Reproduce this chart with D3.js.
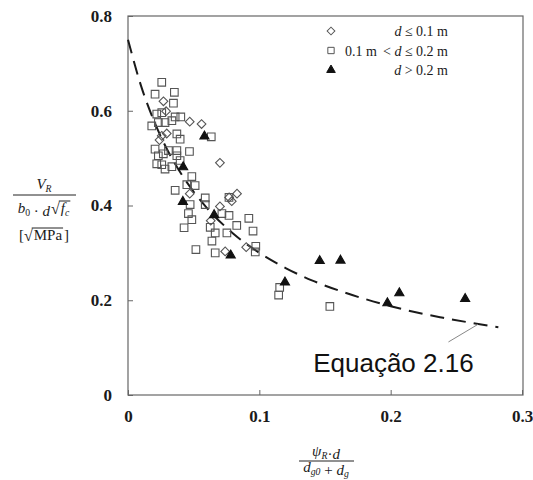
<!DOCTYPE html>
<html>
<head>
<meta charset="utf-8">
<script src="https://cdn.jsdelivr.net/npm/d3@7/dist/d3.min.js"></script>
<style>
body{margin:0;background:#fff}
svg{display:block}
text{font-family:"Liberation Serif","Times New Roman",serif;fill:#1a1a1a}
</style>
</head>
<body>
<div id="chart"></div>
<script>
// points, [x, y]
// d <= 0.1 m
var diamondPts = [[0.027,0.620],[0.029,0.599],[0.047,0.577],[0.056,0.572],[0.0295,0.552],[0.0257,0.547],
  [0.024,0.538],[0.070,0.490],[0.047,0.425],[0.070,0.398],[0.077,0.417],[0.083,0.425],[0.079,0.409],
  [0.063,0.368],[0.074,0.303],[0.090,0.312]]
// 0.1 m < d <= 0.2 m
var squarePts = [[0.0257,0.660],[0.0206,0.635],[0.0353,0.639],[0.0346,0.616],[0.0219,0.593],[0.0257,0.596],
  [0.0359,0.587],[0.0402,0.587],[0.0181,0.568],[0.0231,0.575],[0.0282,0.575],[0.0334,0.579],[0.0372,0.551],
  [0.0397,0.540],[0.0634,0.545],[0.0206,0.519],[0.0231,0.505],[0.0269,0.509],[0.0308,0.516],[0.0372,0.516],
  [0.0372,0.505],[0.0468,0.514],[0.0397,0.495],[0.0219,0.488],[0.0257,0.486],[0.0282,0.477],[0.0334,0.482],
  [0.0486,0.461],[0.0359,0.432],[0.0448,0.444],[0.0511,0.442],[0.0473,0.402],[0.0588,0.416],[0.0588,0.402],
  [0.046,0.383],[0.0486,0.370],[0.0427,0.353],[0.0715,0.383],[0.0769,0.379],[0.0769,0.417],[0.0626,0.354],
  [0.0664,0.342],[0.0639,0.325],[0.0753,0.342],[0.0828,0.358],[0.092,0.373],[0.0952,0.346],[0.0517,0.307],
  [0.0664,0.300],[0.0973,0.314],[0.0969,0.302],[0.1155,0.227],[0.1147,0.211],[0.1537,0.187]]
// d > 0.2 m
var trianglePts = [[0.0582,0.546],[0.042,0.481],[0.0418,0.408],[0.0656,0.380],[0.0782,0.295],[0.1195,0.238],
  [0.146,0.283],[0.1618,0.284],[0.1975,0.194],[0.2066,0.215],[0.2567,0.203]]
// dashed curve (Equação 2.16)
var curvePts = [[0,0.75],[0.01,0.652],[0.02,0.577],[0.03,0.517],[0.04,0.469],[0.05,0.429],[0.06,0.395],
  [0.08,0.341],[0.10,0.300],[0.12,0.268],[0.14,0.242],[0.16,0.221],[0.18,0.203],[0.20,0.1875],[0.22,0.174],
  [0.24,0.163],[0.26,0.153],[0.282,0.143]]
var xTicks = [0, 0.1, 0.2, 0.3]
var yTicks = [0, 0.2, 0.4, 0.6, 0.8]
var legendLabels = ["d ≤ 0.1 m", "0.1 m < d ≤ 0.2 m", "d > 0.2 m"]
var noteLabel = "Equação 2.16"

var width = 533, height = 480
var svg = d3.select("#chart").append("svg")
  .attr("width", width).attr("height", height)

var x = d3.scaleLinear().domain([0, 0.3]).range([128, 522])
var y = d3.scaleLinear().domain([0, 0.8]).range([395, 16])
var fmt = function(d){ return d === 0 ? "0" : d.toFixed(1) }

// frame
svg.append("rect")
  .attr("x", x(0)).attr("y", y(0.8))
  .attr("width", x(0.3) - x(0) + 1).attr("height", y(0) - y(0.8))
  .attr("fill", "none").attr("stroke", "#666").attr("stroke-width", 1.2)

// axes
var xAxis = svg.append("g").attr("transform", "translate(0," + y(0) + ")")
  .call(d3.axisBottom(x).tickValues(xTicks).tickFormat(fmt).tickSizeInner(-5).tickSizeOuter(0).tickPadding(15))
var yAxis = svg.append("g").attr("transform", "translate(" + x(0) + ",0)")
  .call(d3.axisLeft(y).tickValues(yTicks).tickFormat(fmt).tickSizeInner(-5).tickSizeOuter(0).tickPadding(16))
svg.selectAll(".domain").remove()
svg.selectAll(".tick line").attr("stroke", "#666")
svg.selectAll(".tick text")
  .attr("font-family", "Liberation Serif, serif").attr("font-size", 17)
  .attr("fill", "#1a1a1a").attr("font-weight", "bold")

// curve
svg.append("path")
  .datum(curvePts)
  .attr("fill", "none").attr("stroke", "#1a1a1a").attr("stroke-width", 2)
  .attr("stroke-dasharray", "14,8")
  .attr("d", d3.line().curve(d3.curveMonotoneX)
    .x(function(d){ return x(d[0]) }).y(function(d){ return y(d[1]) }))

// markers
function drawSymbols(pts, type, size, rot, fill, stroke){
  svg.append("g").selectAll("path")
    .data(pts).enter().append("path")
    .attr("d", d3.symbol().type(type).size(size))
    .attr("transform", function(d){ return "translate(" + x(d[0]) + "," + y(d[1]) + ") rotate(" + rot + ")" })
    .attr("fill", fill).attr("stroke", stroke).attr("stroke-width", 1.1)
}
drawSymbols(squarePts, d3.symbolSquare, 58, 0, "none", "#555")
drawSymbols(diamondPts, d3.symbolSquare, 38, 45, "none", "#555")
drawSymbols(trianglePts, d3.symbolTriangle, 36, 0, "#111", "#111")

// legend
var lg = svg.append("g")
var legendSym = [[d3.symbolSquare, 30, 45, "none"], [d3.symbolSquare, 40, 0, "none"], [d3.symbolTriangle, 32, 0, "#111"]]
for (var i = 0; i < 3; i++){
  var ly = 31 + i * 19.5
  lg.append("path")
    .attr("d", d3.symbol().type(legendSym[i][0]).size(legendSym[i][1]))
    .attr("transform", "translate(331," + ly + ") rotate(" + legendSym[i][2] + ")")
    .attr("fill", legendSym[i][3]).attr("stroke", i == 2 ? "#111" : "#555").attr("stroke-width", 1)
}
function legendText(yy, str){
  var t = lg.append("text").attr("x", 448).attr("y", yy).attr("text-anchor", "end").attr("font-size", 14)
  var idx = str.indexOf("d ")
  t.append("tspan").text(str.slice(0, idx))
  t.append("tspan").attr("font-style", "italic").text("d")
  t.append("tspan").text(str.slice(idx + 1))
}
legendText(36, legendLabels[0])
lg.append("text").attr("x", 345).attr("y", 56).attr("font-size", 14).text(legendLabels[1].slice(0, 5))
legendText(56, legendLabels[1].slice(6))
legendText(75, legendLabels[2])

// annotation
svg.append("line")
  .attr("x1", x(0.244)).attr("y1", y(0.112)).attr("x2", x(0.2664)).attr("y2", y(0.149))
  .attr("stroke", "#888").attr("stroke-width", 1)
svg.append("text")
  .attr("x", x(0.141)).attr("y", 372)
  .style("font-family", "Liberation Sans, Arial, sans-serif").style("fill", "#111")
  .attr("font-size", 26).text(noteLabel)

// helper for italic symbol with subscript
function addSub(t, main, sub, italicSub){
  t.append("tspan").attr("font-style", "italic").text(main)
  t.append("tspan").attr("font-size", "0.65em").attr("dy", 2.5).attr("font-style", italicSub ? "italic" : "normal").text(sub)
  t.append("tspan").attr("dy", -2.5).text("")
}

// y label
var yl = svg.append("g")
var num = yl.append("text").attr("x", 44).attr("y", 189).attr("text-anchor", "middle").attr("font-size", 15)
addSub(num, "V", "R", true)
yl.append("line").attr("x1", 13).attr("x2", 76).attr("y1", 195).attr("y2", 195).attr("stroke", "#222").attr("stroke-width", 1)

var den = yl.append("g")
var dA = den.append("text").attr("x", 0).attr("y", 0).attr("font-size", 15)
addSub(dA, "b", "0", false)
dA.append("tspan").text(" · ")
dA.append("tspan").attr("font-style", "italic").text("d")
var wA = dA.node().getComputedTextLength()
var sq = den.append("text").attr("x", wA + 1).attr("y", 1).attr("font-size", 16).text("√")
var wS = sq.node().getComputedTextLength()
var dB = den.append("text").attr("x", wA + wS + 2).attr("y", 0).attr("font-size", 15)
addSub(dB, "f", "c", true)
var wB = dB.node().getComputedTextLength()
den.append("line").attr("x1", wA + wS).attr("x2", wA + wS + wB + 3).attr("y1", -12).attr("y2", -12)
  .attr("stroke", "#222").attr("stroke-width", 1)
var wD = wA + wS + wB + 3
den.attr("transform", "translate(" + (44 - wD / 2) + ",213)")

var unit = yl.append("g")
var u1 = unit.append("text").attr("font-size", 15).text("[")
var w1 = u1.node().getComputedTextLength()
var u2 = unit.append("text").attr("x", w1).attr("y", 1).attr("font-size", 16).text("√")
var w2 = u2.node().getComputedTextLength()
var u3 = unit.append("text").attr("x", w1 + w2 + 1).attr("font-size", 15).text("MPa")
var w3 = u3.node().getComputedTextLength()
unit.append("line").attr("x1", w1 + w2 - 1).attr("x2", w1 + w2 + w3 + 2).attr("y1", -12).attr("y2", -12)
  .attr("stroke", "#222").attr("stroke-width", 1)
unit.append("text").attr("x", w1 + w2 + w3 + 3).attr("font-size", 15).text("]")
var wU = w1 + w2 + w3 + 3 + w1
unit.attr("transform", "translate(" + (44 - wU / 2) + ",240)")

// x label
var xl = svg.append("g")
var xn = xl.append("text").attr("x", 326).attr("y", 456).attr("text-anchor", "middle").attr("font-size", 15)
addSub(xn, "ψ", "R", true)
xn.append("tspan").text("·")
xn.append("tspan").attr("font-style", "italic").text("d")
xl.append("line").attr("x1", 299).attr("x2", 354).attr("y1", 461).attr("y2", 461).attr("stroke", "#222").attr("stroke-width", 1)
var xd = xl.append("text").attr("x", 326).attr("y", 472).attr("text-anchor", "middle").attr("font-size", 15)
addSub(xd, "d", "g0", true)
xd.append("tspan").text(" + ")
addSub(xd, "d", "g", true)
</script>
</body>
</html>
